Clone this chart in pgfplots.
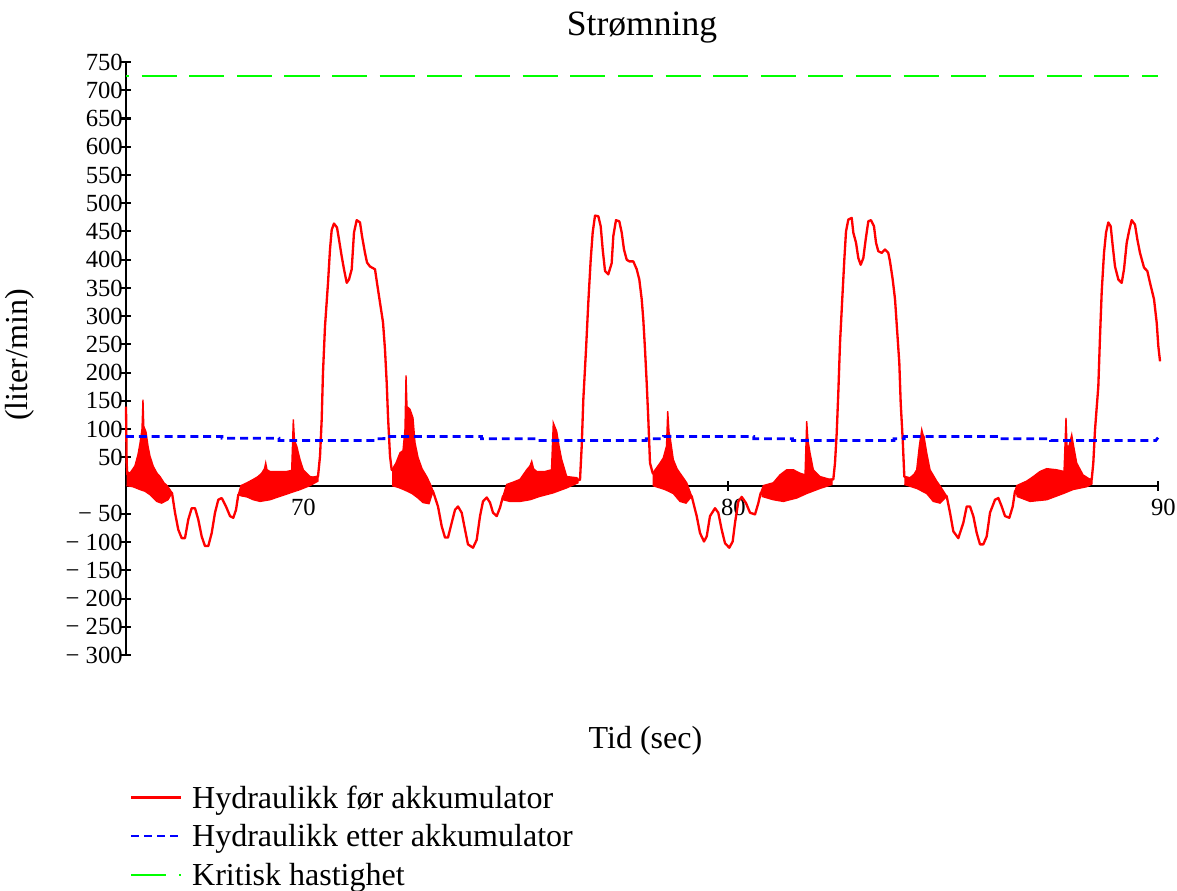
\documentclass[border=0pt]{standalone}
\usepackage{fontspec}
\setmainfont{Liberation Serif}
\usepackage{pgfplots}
\pgfplotsset{compat=1.18}

\definecolor{mcred}{RGB}{255,0,0}
\definecolor{mcblue}{RGB}{0,0,255}
\definecolor{mcgreen}{RGB}{0,255,0}

\begin{document}
\begin{tikzpicture}
\begin{axis}[
  scale only axis,
  width=377.03pt, height=216.65pt,
  xmin=66, xmax=90, ymin=-300, ymax=750,
  enlargelimits=false,
  clip=false,
  axis x line=middle,
  axis y line=left,
  axis line style={-, line width=0.75pt, black},
  tick align=center,
  major tick length=3.6pt,
  every tick/.style={black, line width=0.75pt},
  xtick={70,80,90},
  xticklabels={70,80,90},
  ytick={-300,-250,-200,-150,-100,-50,50,100,150,200,250,300,350,400,450,500,550,600,650,700,750},
  yticklabels={− 300,− 250,− 200,− 150,− 100,− 50,50,100,150,200,250,300,350,400,450,500,550,600,650,700,750},
  tick label style={font=\fontsize{9}{10}\selectfont, black},
  xticklabel style={xshift=2pt, yshift=-2pt, inner sep=1pt},
  yticklabel style={xshift=1.8pt, inner sep=1pt},
  title={Strømning},
  title style={at={(axis description cs:0.5,1.0575)}, anchor=center, yshift=-6pt, font=\fontsize{13}{15}\selectfont},
  xlabel={Tid (sec)},
  xlabel style={at={(axis description cs:0.5034,-0.145)}, anchor=center, font=\fontsize{11.7}{14}\selectfont},
  ylabel={(liter/min)},
  ylabel style={at={(axis description cs:-0.1027,0.506)}, anchor=center, font=\fontsize{11.7}{14}\selectfont},
  legend style={draw=none, fill=none, at={(axis description cs:0.0039,-0.2188)}, anchor=north west,
    inner sep=0pt, outer sep=0pt, font=\fontsize{11.7}{14}\selectfont,
    nodes={inner sep=0pt, text height=8.5pt, text depth=2.5pt},
    column sep=3.4pt, row sep=3.1pt},
  legend cell align=left,
  legend image code/.code={\draw[#1, dash phase=0pt] (0pt,0.9pt) -- (18.3pt,0.9pt);},
]

% flow before the accumulator
\addplot[mcred, line width=0.85pt, line join=round] coordinates {
(66.000,140) (66.008,90) (66.015,40) (66.030,20)
(67.070,-13) (67.140,-48) (67.216,-78) (67.295,-93) (67.372,-93) (67.449,-60) (67.528,-40) (67.605,-40) (67.681,-60) (67.760,-90) (67.837,-107) (67.914,-107) (67.993,-84) (68.070,-48) (68.147,-25) (68.226,-22) (68.326,-37) (68.419,-54) (68.495,-57) (68.558,-43) (68.612,-16)
(70.465,16) (70.512,52) (70.551,117) (70.581,200) (70.628,282) (70.698,359) (70.744,418) (70.784,453) (70.837,464) (70.907,457) (70.953,436) (71.016,406) (71.070,383) (71.133,359) (71.186,365) (71.249,383) (71.302,448) (71.365,470) (71.442,466) (71.488,442) (71.558,412) (71.605,395) (71.674,388) (71.791,383) (71.837,359) (71.907,324) (71.977,289) (72.023,241) (72.063,182) (72.093,123) (72.140,52) (72.179,28)
(73.140,-10) (73.256,-37) (73.342,-72) (73.419,-92) (73.488,-92) (73.574,-66) (73.651,-43) (73.721,-37) (73.807,-48) (73.884,-78) (73.953,-104) (74.070,-110) (74.156,-96) (74.233,-54) (74.302,-28) (74.388,-21) (74.465,-30) (74.535,-48) (74.621,-54) (74.698,-39) (74.767,-19)
(76.512,10) (76.558,10) (76.598,70) (76.635,152) (76.698,241) (76.751,324) (76.807,400) (76.853,448) (76.907,478) (76.984,477) (77.040,459) (77.086,418) (77.140,380) (77.216,374) (77.295,394) (77.333,442) (77.395,470) (77.472,468) (77.528,448) (77.581,418) (77.644,400) (77.705,397) (77.798,397) (77.877,383) (77.937,365) (77.993,330) (78.030,294) (78.070,241) (78.109,182) (78.147,117) (78.186,40) (78.249,22)
(79.156,-19) (79.272,-54) (79.349,-84) (79.442,-99) (79.505,-90) (79.581,-54) (79.698,-40) (79.774,-48) (79.853,-78) (79.930,-102) (80.030,-110) (80.109,-99) (80.163,-66) (80.240,-28) (80.319,-20) (80.419,-31) (80.512,-48) (80.628,-51) (80.705,-31) (80.760,-13)
(82.419,11) (82.449,11) (82.488,40) (82.528,93) (82.565,164) (82.605,253) (82.658,332) (82.705,400) (82.744,450) (82.798,471) (82.877,474) (82.914,448) (82.977,430) (83.030,403) (83.086,391) (83.147,403) (83.202,436) (83.263,468) (83.326,470) (83.395,459) (83.442,430) (83.495,415) (83.574,412) (83.651,418) (83.728,412) (83.767,397) (83.830,365) (83.884,330) (83.937,270) (83.984,217) (84.016,146) (84.063,81) (84.100,16)
(85.086,-19) (85.163,-48) (85.240,-81) (85.356,-93) (85.472,-66) (85.551,-37) (85.628,-37) (85.705,-54) (85.784,-84) (85.860,-104) (85.937,-104) (86.016,-90) (86.093,-48) (86.209,-25) (86.286,-22) (86.365,-37) (86.442,-54) (86.542,-57) (86.621,-37) (86.674,-10)
(88.458,11) (88.495,40) (88.535,99) (88.612,176) (88.651,264) (88.691,344) (88.744,412) (88.791,448) (88.844,466) (88.900,459) (88.947,424) (89.000,388) (89.077,365) (89.156,359) (89.209,383) (89.272,430) (89.333,453) (89.388,470) (89.465,462) (89.519,436) (89.581,412) (89.674,386) (89.751,380) (89.814,359) (89.907,330) (89.970,288) (90.007,247) (90.047,220)
};

% pressure-ripple bands (upper and lower envelope of the oscillation)
\addplot[mcred, fill=mcred, line width=0.5pt, forget plot] coordinates {
(66.012,25) (66.093,22) (66.209,35) (66.279,55) (66.326,75) (66.372,100) (66.395,152) (66.414,105) (66.465,95) (66.512,70) (66.558,52) (66.635,34) (66.721,22) (66.791,16) (66.884,5) (66.953,0) (67.023,-7) (67.070,-13)
(66.977,-25) (66.830,-31) (66.714,-28) (66.558,-16) (66.442,-10) (66.326,-7) (66.163,-2) (66.012,0)
};
\addplot[mcred, fill=mcred, line width=0.5pt, forget plot] coordinates {
(68.612,-16) (68.674,0) (68.814,5) (68.960,11) (69.070,16) (69.156,22) (69.221,30) (69.249,40) (69.279,28) (69.349,25) (69.581,25) (69.737,25) (69.853,27) (69.891,117) (69.919,80) (69.970,70) (70.047,46) (70.123,28) (70.279,16) (70.435,14) (70.465,16)
(70.465,8) (70.279,0) (70.047,-7) (69.814,-13) (69.581,-19) (69.349,-25) (69.116,-28) (68.960,-25) (68.814,-20) (68.674,-18) (68.612,-16)
};
\addplot[mcred, fill=mcred, line width=0.5pt, forget plot] coordinates {
(72.186,28) (72.279,40) (72.372,58) (72.442,62) (72.488,100) (72.512,195) (72.535,140) (72.605,135) (72.674,120) (72.721,76) (72.791,50) (72.884,30) (73.000,15) (73.093,0) (73.140,-10)
(73.047,-32) (72.907,-30) (72.791,-22) (72.651,-14) (72.488,-8) (72.326,-3) (72.186,0)
};
\addplot[mcred, fill=mcred, line width=0.5pt, forget plot] coordinates {
(74.767,-19) (74.853,2) (75.000,6) (75.163,11) (75.319,28) (75.395,35) (75.435,43) (75.477,30) (75.551,25) (75.744,25) (75.895,28) (75.937,111) (76.016,96) (76.070,70) (76.133,46) (76.249,16) (76.481,14) (76.512,12)
(76.512,5) (76.249,-4) (75.930,-13) (75.628,-19) (75.395,-25) (75.163,-28) (74.930,-28) (74.767,-25)
};
\addplot[mcred, fill=mcred, line width=0.5pt, forget plot] coordinates {
(78.249,22) (78.326,30) (78.419,40) (78.495,49) (78.570,70) (78.598,132) (78.628,95) (78.651,87) (78.728,46) (78.814,30) (78.884,22) (79.040,5) (79.156,-19)
(79.023,-31) (78.884,-28) (78.728,-14) (78.535,-7) (78.372,-3) (78.249,0)
};
\addplot[mcred, fill=mcred, line width=0.5pt, forget plot] coordinates {
(80.760,-13) (80.821,0) (81.053,5) (81.209,19) (81.365,28) (81.519,28) (81.674,22) (81.791,19) (81.830,114) (81.860,80) (81.907,58) (81.984,28) (82.140,16) (82.372,11) (82.419,11)
(82.419,2) (82.140,-5) (81.830,-14) (81.597,-22) (81.286,-28) (81.053,-25) (80.784,-19)
};
\addplot[mcred, fill=mcred, line width=0.5pt, forget plot] coordinates {
(84.100,16) (84.233,14) (84.326,20) (84.388,28) (84.449,70) (84.505,99) (84.535,90) (84.558,87) (84.621,58) (84.698,28) (84.853,8) (84.953,-3) (85.086,-19)
(84.930,-31) (84.774,-28) (84.621,-14) (84.388,-5) (84.186,0) (84.100,2)
};
\addplot[mcred, fill=mcred, line width=0.5pt, forget plot] coordinates {
(86.674,-10) (86.714,0) (86.947,8) (87.100,16) (87.256,25) (87.412,30) (87.644,28) (87.814,25) (87.860,120) (87.884,70) (87.930,70) (87.993,90) (88.023,76) (88.109,40) (88.256,19) (88.419,11) (88.465,11)
(88.465,3) (88.340,-2) (88.023,-7) (87.798,-14) (87.412,-25) (87.023,-28) (86.714,-19)
};

% flow after the accumulator
\addplot[mcblue, line width=1pt, dash pattern=on 2.9pt off 1.8pt] coordinates {
(66.00,87) (68.23,87) (68.23,84) (69.56,84) (69.56,80) (71.85,80) (71.85,83) (72.00,83) (72.00,87)
(74.27,87) (74.27,83) (75.55,83) (75.55,80) (78.10,80) (78.10,83) (78.50,83) (78.50,87)
(80.60,87) (80.60,83) (81.50,83) (81.50,80) (83.86,80) (83.86,83) (84.10,83) (84.10,87)
(86.30,87) (86.30,83) (87.50,83) (87.50,80) (89.95,80) (90.00,85)
};

% critical velocity limit
\addplot[mcgreen, line width=0.75pt, dash pattern=on 12.8pt off 4.6pt, dash phase=11.7pt] coordinates {
(66,726) (90,726)
};

\legend{Hydraulikk før akkumulator, Hydraulikk etter akkumulator, Kritisk hastighet}
\end{axis}
\pgfresetboundingbox
\path (-46.03pt,-85.85pt) rectangle (383.97pt,239.3pt);
\end{tikzpicture}
\end{document}
